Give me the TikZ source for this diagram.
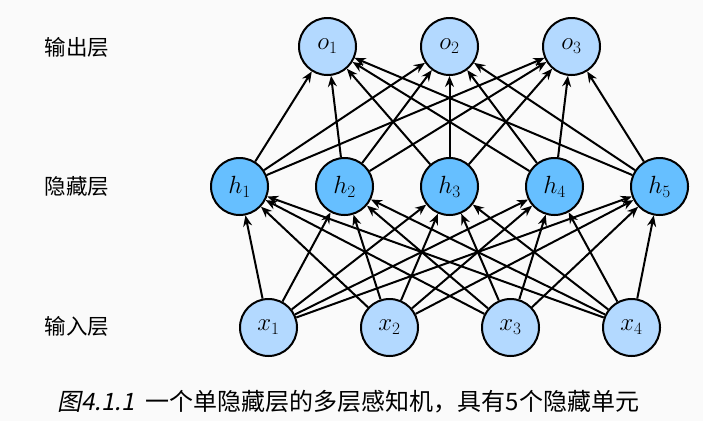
\documentclass[tikz,border=0pt]{standalone}
\usepackage{fontspec}
\newfontfamily\cjk{Noto Sans CJK SC}
\newfontfamily\cjkit[FakeSlant=0.2]{Noto Sans CJK SC}
\usetikzlibrary{arrows.meta, positioning}

\definecolor{bgcol}{RGB}{250,250,250}
\definecolor{lightblue}{RGB}{179,217,255}
\definecolor{midblue}{RGB}{102,191,255}

\tikzset{
  unit/.style={circle, draw, line width=2pt, minimum size=57pt, inner sep=0pt,
    font=\fontsize{24}{26}\selectfont},
  inunit/.style={unit, fill=lightblue},
  hidunit/.style={unit, fill=midblue},
  layerlabel/.style={anchor=west, font=\cjk\fontsize{21.5}{23}\selectfont},
  conn/.style={-{Stealth[length=11pt,width=9pt]}, line width=2pt}
}

\begin{document}
\begin{tikzpicture}[x=1pt, y=-1pt]
  % 背景
  \fill[bgcol] (0,0) rectangle (703,421);
  \useasboundingbox (0,0) rectangle (703,421);

  % 层标签
  \node[layerlabel] (lo) at (41,47) {输出层};
  \node[layerlabel] (lh) at (41,186) {隐藏层};
  \node[layerlabel] (li) at (41,326) {输入层};

  % 输出层
  \node[inunit] (o1) at (327.5,46.5) {$o_1$};
  \node[inunit] (o2) at (449.5,46.5) {$o_2$};
  \node[inunit] (o3) at (571.5,46.5) {$o_3$};

  % 隐藏层
  \node[hidunit] (h1) at (239.5,186.5) {$h_1$};
  \node[hidunit] (h2) at (344.5,186.5) {$h_2$};
  \node[hidunit] (h3) at (449.5,186.5) {$h_3$};
  \node[hidunit] (h4) at (554.5,186.5) {$h_4$};
  \node[hidunit] (h5) at (659.5,186.5) {$h_5$};

  % 输入层
  \node[inunit] (x1) at (268.5,327.5) {$x_1$};
  \node[inunit] (x2) at (389.5,327.5) {$x_2$};
  \node[inunit] (x3) at (510.5,327.5) {$x_3$};
  \node[inunit] (x4) at (631.5,327.5) {$x_4$};

  % 连接
  \foreach \i in {1,...,4}
    \foreach \j in {1,...,5}
      \draw[conn] (x\i) -- (h\j);
  \foreach \j in {1,...,5}
    \foreach \k in {1,...,3}
      \draw[conn] (h\j) -- (o\k);

  % 标题
  \node[anchor=west, font=\fontsize{24}{26}\selectfont] (cap) at (54,402)
    {{\cjkit 图4.1.1}\hspace{11pt}{\cjk 一个单隐藏层的多层感知机，具有5个隐藏单元}};
\end{tikzpicture}
\end{document}
